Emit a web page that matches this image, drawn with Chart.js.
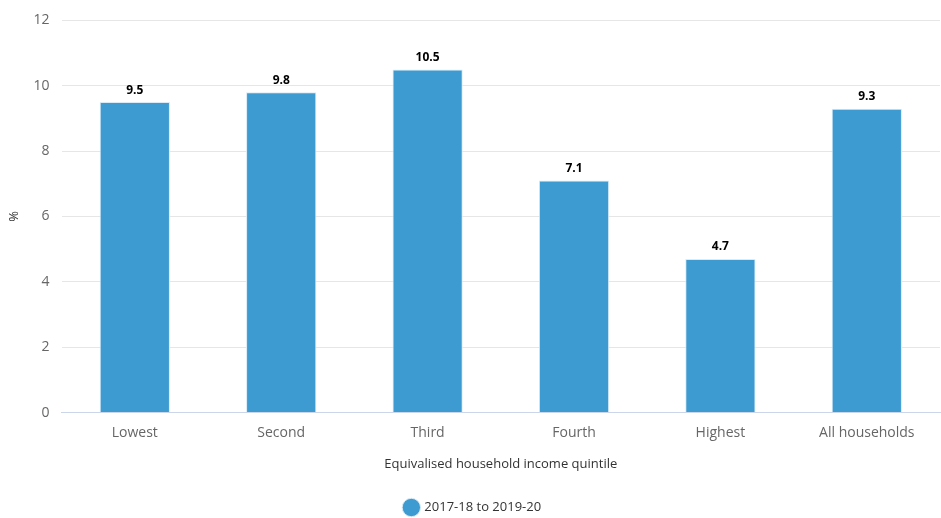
<!DOCTYPE html>
<html>
<head>
<meta charset="utf-8">
<script src="https://cdn.jsdelivr.net/npm/chart.js@4/dist/chart.umd.min.js"></script>
<style>
  html, body { margin: 0; padding: 0; background: #fff; }
  #wrap { width: 941px; height: 518px; }
</style>
</head>
<body>
<div id="wrap"><canvas id="chart"></canvas></div>
<script>
const categories = ['Lowest', 'Second', 'Third', 'Fourth', 'Highest', 'All households'];
const values = [9.5, 9.8, 10.5, 7.1, 4.7, 9.3];
const seriesName = '2017-18 to 2019-20';
const yTicks = [0, 2, 4, 6, 8, 10, 12];

const fontFamily = '"Open Sans", "Noto Sans", sans-serif';

// Draws the value above each bar
const valueLabels = {
    id: 'valueLabels',
    afterDatasetsDraw(chart) {
        const ctx = chart.ctx;
        const meta = chart.getDatasetMeta(0);
        ctx.save();
        ctx.font = 'bold 12px ' + fontFamily;
        ctx.fillStyle = '#000';
        ctx.textAlign = 'center';
        ctx.textBaseline = 'bottom';
        meta.data.forEach((bar, i) => {
            ctx.fillText(values[i].toFixed(1), bar.x, bar.y - 6);
        });
        ctx.restore();
    }
};

new Chart(document.getElementById('chart'), {
    type: 'bar',
    data: {
        labels: categories,
        datasets: [{
            label: seriesName,
            data: values,
            backgroundColor: '#3d9bd1',
            borderColor: '#d8ebf7',
            borderWidth: 1,
            barPercentage: 0.48,
            categoryPercentage: 1
        }]
    },
    options: {
        responsive: true,
        maintainAspectRatio: false,
        animation: false,
        layout: { padding: { left: 6, right: 1, top: 3, bottom: -6 } },
        plugins: {
            tooltip: { enabled: false },
            legend: {
                position: 'bottom',
                labels: {
                    usePointStyle: true,
                    pointStyle: 'circle',
                    boxWidth: 14,
                    boxHeight: 14,
                    color: '#333',
                    padding: 10,
                    font: { family: fontFamily, size: 13 }
                }
            }
        },
        scales: {
            x: {
                grid: { display: false },
                border: { color: '#ccd6eb' },
                ticks: { color: '#666', padding: 4, font: { family: fontFamily, size: 14 } },
                title: {
                    display: true,
                    text: 'Equivalised household income quintile',
                    color: '#333',
                    padding: { top: 11, bottom: 19 },
                    font: { family: fontFamily, size: 13 }
                }
            },
            y: {
                min: 0,
                max: 12,
                afterBuildTicks: axis => { axis.ticks = yTicks.map(v => ({ value: v })); },
                grid: { color: '#e6e6e6', drawTicks: false },
                border: { display: false },
                ticks: { color: '#666', padding: 12, font: { family: fontFamily, size: 14 } },
                title: {
                    display: true,
                    text: '%',
                    color: '#333',
                    padding: { top: 0, bottom: 0 },
                    font: { family: fontFamily, size: 13 }
                }
            }
        }
    },
    plugins: [valueLabels]
});
</script>
</body>
</html>
